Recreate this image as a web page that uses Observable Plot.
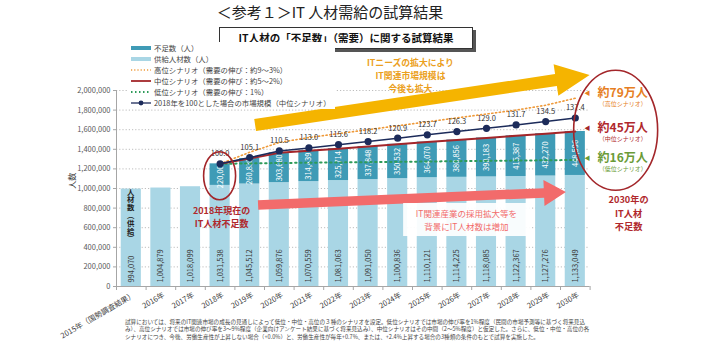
<!DOCTYPE html>
<html><head><meta charset="utf-8">
<script src="https://cdn.jsdelivr.net/npm/d3@7"></script>
<script src="https://cdn.jsdelivr.net/npm/@observablehq/plot@0.6"></script>
<style>
html,body{margin:0;padding:0;background:#fff;}
body{width:712px;height:346px;overflow:hidden;position:relative;font-family:"Noto Sans CJK JP",sans-serif;color:#333;}
#head{position:relative;height:58px;}
#title{position:absolute;left:0;width:660px;top:1px;text-align:center;font-size:15px;color:#222;}
#box{position:absolute;left:219px;top:27px;width:252px;height:20px;border:1px solid #333;box-shadow:3px 3px 0 #555;background:#fff;font-weight:bold;font-size:10.5px;text-align:center;line-height:20px;color:#111;}
#legend{position:absolute;left:128px;top:42px;background:#fff;font-size:7.4px;color:#444;line-height:11.1px;padding:0 4px 0 2px;}
#legend div{display:flex;align-items:center;white-space:nowrap;}
#legend svg{margin-right:2px;}
#chart svg{overflow:visible;display:block;}
#note{position:absolute;left:125px;top:319px;width:420px;font-size:5.6px;line-height:7.4px;color:#444;white-space:nowrap;}
</style></head>
<body>
<div id="head"><div id="title">＜参考１＞IT 人材需給の試算結果</div><div id="box">IT人材の「不足数」（需要）に関する試算結果</div></div>
<div id="chart"></div>
<div id="legend"></div>
<div id="note"></div>
<script>
// ---- data ----
const years = ["2015年（国勢調査結果）","2016年","2017年","2018年","2019年","2020年","2021年","2022年","2023年","2024年","2025年","2026年","2027年","2028年","2029年","2030年"];
const supply = [994070,1004879,1018099,1031538,1045512,1059876,1070559,1081063,1091050,1100836,1110121,1114225,1118085,1122367,1127276,1133049];
const shortYears = ["2018年","2019年","2020年","2021年","2022年","2023年","2024年","2025年","2026年","2027年","2028年","2029年","2030年"];
const shortage = [220000,260835,303680,314439,325714,337848,350532,364070,380856,398183,415387,432270,448596];
const marketIndex = [100.0,105.1,110.5,113.0,115.6,118.2,120.9,123.7,126.3,129.0,131.7,134.5,137.4];
const highDemand = [1251538,1370000,1470000,1520000,1560000,1600000,1640000,1680000,1720000,1760000,1800000,1850000,1921000];
const lowDemand = [1251538,1256000,1260000,1263000,1266000,1269000,1272000,1275000,1279000,1282000,1285000,1288000,1291000];
const yTicks = [0,200000,400000,600000,800000,1000000,1200000,1400000,1600000,1800000,2000000];
const legendItems = ["不足数（人）","供給人材数（人）","高位シナリオ（需要の伸び：約9～3%）","中位シナリオ（需要の伸び：約5～2%）","低位シナリオ（需要の伸び：1%）","2018年を100とした場合の市場規模（中位シナリオ）"];
const supplyTitle = "人材数（供給）";
const noteLines = [
"試算においては、将来のIT関連市場の成長の見通しによって低位・中位・高位の３種のシナリオを設定。低位シナリオでは市場の伸び率を1%程度（民間の市場予測等に基づく将来見込",
"み）、高位シナリオでは市場の伸び率を3～9%程度（企業向けアンケート結果に基づく将来見込み）、中位シナリオはその中間（2～5%程度）と仮定した。さらに、低位・中位・高位の各",
"シナリオにつき、今後、労働生産性が上昇しない場合（+0.0%）と、労働生産性が毎年+0.7%、または、+2.4%上昇する場合の3種類の条件のもとで試算を実施した。"
];

// ---- colors ----
const C = {supply:"#a9d6e5", short:"#3f9bb6", high:"#ef9a3a", mid:"#a3262a", low:"#2e9b5a", idx:"#1c2b5a", red:"#b0282c", gold:"#f5b400", goldText:"#eba020", pink:"#f26b6b", green:"#6b9b37", orange:"#e67e22"};

// ---- tables ----
const bars = years.map((y,i)=>({i, label:y, supply:supply[i]}));
const sh = shortYears.map((y,k)=>{const i=years.indexOf(y);return {i, supply:supply[i], short:shortage[k], total:supply[i]+shortage[k], idx:marketIndex[k], high:highDemand[k], low:lowDemand[k]};});
const base2018 = sh[0].total;
const fmt = d3.format(",");
const hw = 0.34;

const ns = "http://www.w3.org/2000/svg";
function blockArrow(a){
  return (index, scales) => {
    const X1=scales.x(a.x1), Y1=scales.y(a.y1), X2=scales.x(a.x2), Y2=scales.y(a.y2);
    const dx=X2-X1, dy=Y2-Y1, L=Math.hypot(dx,dy), ux=dx/L, uy=dy/L, nx=-uy, ny=ux;
    const bx=X2-ux*a.headLen, by=Y2-uy*a.headLen;
    const P=[[X1+nx*a.body/2,Y1+ny*a.body/2],[bx+nx*a.body/2,by+ny*a.body/2],[bx+nx*a.head/2,by+ny*a.head/2],[X2,Y2],[bx-nx*a.head/2,by-ny*a.head/2],[bx-nx*a.body/2,by-ny*a.body/2],[X1-nx*a.body/2,Y1-ny*a.body/2]];
    const p=document.createElementNS(ns,"polygon");
    p.setAttribute("points",P.map(q=>q.join(",")).join(" "));
    p.setAttribute("fill",a.color);
    return p;
  };
}
function ellipse(e){
  return (index, scales) => {
    const el=document.createElementNS(ns,"ellipse");
    el.setAttribute("cx",scales.x(e.x)); el.setAttribute("cy",scales.y(e.y));
    el.setAttribute("rx",e.rx); el.setAttribute("ry",e.ry);
    el.setAttribute("fill","none"); el.setAttribute("stroke",e.color); el.setAttribute("stroke-width",1.6);
    return el;
  };
}
// vertical (tategaki) text as one element, anchored in data coords
function verticalText(v){
  return (index, scales) => {
    const t=document.createElementNS(ns,"text");
    t.setAttribute("x",scales.x(v.x)); t.setAttribute("y",scales.y(v.y));
    t.setAttribute("text-anchor","middle");
    t.setAttribute("style",`writing-mode:vertical-rl;font-size:${v.size}px;font-weight:bold;fill:${v.color};letter-spacing:${v.spacing}px`);
    t.textContent=v.text;
    return t;
  };
}

const chart = Plot.plot({
  width:712, height:262,
  marginLeft:116, marginRight:122.4, marginTop:32, marginBottom:34,
  x:{type:"linear", domain:[-0.5,15.5]},
  y:{domain:[0,2000000]},
  style:{fontFamily:'"Noto Sans CJK JP", sans-serif', fontSize:"7.5px", color:"#404040", overflow:"visible"},
  marks:[
    Plot.gridY({ticks:yTicks.filter(t=>t>0), stroke:"#bdbdbd", strokeOpacity:1, strokeDasharray:"1.2,2"}),
    Plot.rectY(bars,{x1:d=>d.i-hw, x2:d=>d.i+hw, y1:0, y2:"supply", fill:C.supply}),
    Plot.rectY(sh,{x1:d=>d.i-hw, x2:d=>d.i+hw, y1:"supply", y2:"total", fill:C.short}),
    Plot.ruleX([-0.5],{stroke:"#a6a6a6"}),
    Plot.ruleY([0],{stroke:"#a6a6a6"}),
    Plot.axisY({ticks:yTicks, tickFormat:fmt, tickSize:3, tickPadding:3, stroke:"#a6a6a6", fill:"#595959", label:null, fontSize:7.5}),
    Plot.axisX({ticks:d3.range(-0.5,15.6,1), tickSize:4, stroke:"#a6a6a6", tickFormat:()=>"", label:null}),
    Plot.axisX({ticks:d3.range(0,16), tickSize:0, tickPadding:8, tickRotate:-30, tickFormat:i=>years[i], fill:"#404040", label:null, fontSize:7.5, dx:3}),
    Plot.text(["人数"],{x:-2.0, y:1080000, rotate:-90, fontSize:8, fill:"#333"}),
    // supply labels
    Plot.text(bars,{x:"i", y:40000, text:d=>fmt(d.supply), rotate:-90, textAnchor:"start", fill:"#404040", fontSize:7.5}),
    // shortage labels
    Plot.text(sh,{x:"i", y:d=>d.supply+d.short/2, text:d=>fmt(d.short), rotate:-90, fill:"#fff", fontSize:7.5}),
    verticalText({text:supplyTitle, x:0, y:720000, size:7.4, spacing:0.4, color:"#222"}),
    // pink arrow + box
    blockArrow({x1:4.3, y1:827000, x2:14.7, y2:959000, body:9.5, head:26, headLen:22, color:C.pink}),
    Plot.rect([0],{x1:9.2, x2:13.5, y1:510000, y2:847000, fill:"#fff", fillOpacity:0.92}),
    Plot.text(["IT関連産業の採用拡大等を\n背景にIT人材数は増加"],{x:11.32, y:684000, fill:C.pink, fontSize:8.5, lineHeight:1.46}),
    // gold arrow + text
    blockArrow({x1:4.2, y1:1643000, x2:15.5, y2:2153000, body:12, head:32, headLen:34, color:C.gold}),
    Plot.text(["ITニーズの拡大により\nIT関連市場規模は\n今後も拡大"],{x:9.43, y:2160000, fill:C.goldText, fontSize:8.8, fontWeight:"bold", lineHeight:1.46}),
    // scenario lines
    Plot.line(sh,{x:"i", y:"low", stroke:C.low, strokeWidth:2, strokeDasharray:"1.5,3.5", strokeLinecap:"round"}),
    Plot.line(sh,{x:"i", y:"high", stroke:C.high, strokeWidth:1.6, strokeDasharray:"1.2,2.6", strokeLinecap:"round"}),
    Plot.line(sh,{x:"i", y:"total", stroke:C.mid, strokeWidth:2}),
    Plot.line(sh,{x:"i", y:d=>d.idx/100*base2018, stroke:C.idx, strokeWidth:1.5}),
    Plot.dot(sh,{x:"i", y:d=>d.idx/100*base2018, r:3.6, fill:C.idx, stroke:"none"}),
    Plot.text(sh,{x:"i", y:d=>d.idx/100*base2018, text:d=>d.idx.toFixed(1), dy:-10, fill:"#333", fontSize:7.5}),
    // annotations
    ellipse({x:3, y:1125000, rx:16, ry:24, color:C.mid}),
    Plot.text(["2018年現在の\nIT人材不足数"],{x:3.05, y:712000, fill:C.red, fontWeight:"bold", fontSize:9, lineHeight:1.46}),
    ellipse({x:16.38, y:1590000, rx:42, ry:60, color:C.mid}),
    Plot.text(["◀"],{x:15.4, y:1969000, fill:C.orange, fontSize:6}),
    Plot.text(["◀"],{x:15.4, y:1612000, fill:C.mid, fontSize:6}),
    Plot.text(["◀"],{x:15.4, y:1306000, fill:C.green, fontSize:6}),
    Plot.text(["約79万人"],{x:16.6, y:1969000, fill:C.orange, fontWeight:"bold", fontSize:12}),
    Plot.text(["（高位シナリオ）"],{x:16.6, y:1857000, fill:C.orange, fontSize:6}),
    Plot.text(["約45万人"],{x:16.6, y:1612000, fill:C.red, fontWeight:"bold", fontSize:12}),
    Plot.text(["（中位シナリオ）"],{x:16.6, y:1500000, fill:C.red, fontSize:6}),
    Plot.text(["約16万人"],{x:16.6, y:1306000, fill:C.green, fontWeight:"bold", fontSize:12}),
    Plot.text(["（低位シナリオ）"],{x:16.6, y:1194000, fill:C.green, fontSize:6}),
    Plot.text(["2030年の\nIT人材\n不足数"],{x:16.8, y:755000, fill:C.red, fontWeight:"bold", fontSize:9.2, lineHeight:1.46})
  ]
});
document.getElementById("chart").append(chart);

// legend
const sw = [
  `<rect x="1" y="2" width="20" height="4" fill="${C.short}"/>`,
  `<rect x="1" y="2" width="20" height="4" fill="${C.supply}"/>`,
  `<line x1="1" y1="4" x2="21" y2="4" stroke="${C.high}" stroke-width="1.3" stroke-dasharray="1.2,2"/>`,
  `<line x1="1" y1="4" x2="21" y2="4" stroke="${C.mid}" stroke-width="1.8"/>`,
  `<line x1="1" y1="4" x2="21" y2="4" stroke="${C.low}" stroke-width="1.8" stroke-dasharray="1.5,2.5"/>`,
  `<line x1="1" y1="4" x2="21" y2="4" stroke="${C.idx}" stroke-width="1.3"/><circle cx="11" cy="4" r="2.4" fill="${C.idx}"/>`
];
document.getElementById("legend").innerHTML = legendItems.map((t,k)=>`<div><svg width="22" height="8">${sw[k]}</svg>${t}</div>`).join("");
document.getElementById("note").innerHTML = noteLines.map(l=>`<div>${l}</div>`).join("");
</script>
</body></html>
